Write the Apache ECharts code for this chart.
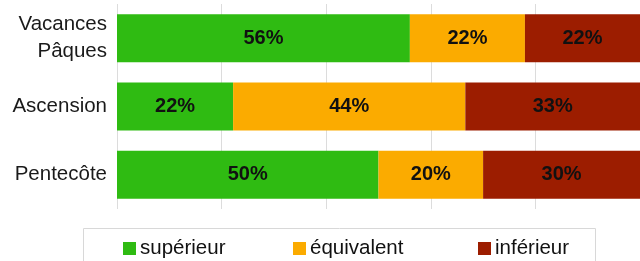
<!DOCTYPE html>
<html>
<head>
<meta charset="utf-8">
<script src="https://cdn.jsdelivr.net/npm/echarts@6/dist/echarts.min.js"></script>
<style>
  html, body { margin: 0; padding: 0; background: #fff; }
  #chart { width: 640px; height: 261px; }
</style>
</head>
<body>
<div id="chart"></div>
<script>
var categories = ['Vacances\nPâques', 'Ascension', 'Pentecôte'];
var seriesNames = ['supérieur', 'équivalent', 'inférieur'];
var superieur = [56, 22.2, 50];
var equivalent = [22, 44.4, 20];
var inferieur = [22, 33.4, 30];
var colors = ['#2fbb12', '#fbab00', '#9c1d00'];
var xTicks = [0, 20, 40, 60, 80, 100];

var myChart = echarts.init(document.getElementById('chart'));

function barSeries(name, values, color) {
    return {
        name: name,
        type: 'bar',
        stack: 'total',
        barWidth: 48,
        data: values,
        itemStyle: { color: color },
        label: {
            show: true,
            position: 'inside',
            formatter: function (p) { return Math.round(p.value) + '%'; },
            color: '#111',
            fontSize: 20,
            fontWeight: 'bold',
            fontFamily: 'Liberation Sans'
        }
    };
}

// legend: one per item so each sits where the reference puts it
var legendLefts = [123, 293, 478];
var legends = [];
for (var i = 0; i < seriesNames.length; i++) {
    legends.push({
        data: [seriesNames[i]],
        left: legendLefts[i],
        top: 238,
        padding: 0,
        itemWidth: 13,
        itemHeight: 13,
        itemGap: 4,
        icon: 'rect',
        selectedMode: false,
        textStyle: { fontSize: 20.5, color: '#111', fontFamily: 'Liberation Sans', padding: [0, 0, 0, -1] }
    });
}

var option = {
    animation: false,
    color: colors,
    grid: { left: 117, top: 4, width: 526, height: 205, containLabel: false },
    legend: legends,
    graphic: [{
        type: 'rect',
        shape: { x: 83.5, y: 228.5, width: 512, height: 40 },
        style: { fill: 'none', stroke: '#d8d8d8', lineWidth: 1 }
    }],
    xAxis: {
        type: 'value',
        min: xTicks[0],
        max: xTicks[xTicks.length - 1],
        interval: 20,
        axisLabel: { show: false },
        axisLine: { show: false },
        axisTick: { show: false },
        splitLine: { show: true, lineStyle: { color: '#dcdcdc' } }
    },
    yAxis: {
        type: 'category',
        inverse: true,
        data: categories,
        axisLine: { show: false },
        axisTick: { show: false },
        axisLabel: {
            margin: 10,
            fontSize: 20.5,
            lineHeight: 27,
            color: '#1a1a1a',
            fontFamily: 'Liberation Sans',
            align: 'right'
        }
    },
    series: [
        barSeries(seriesNames[0], superieur, colors[0]),
        barSeries(seriesNames[1], equivalent, colors[1]),
        barSeries(seriesNames[2], inferieur, colors[2])
    ]
};
myChart.setOption(option);
</script>
</body>
</html>
